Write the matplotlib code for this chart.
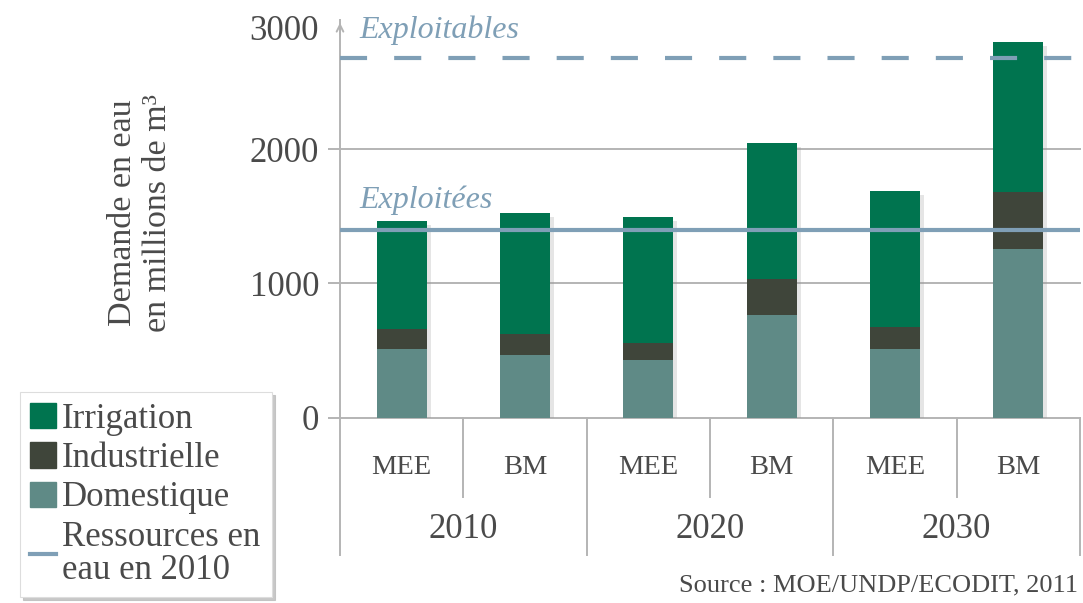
import numpy as np
import matplotlib
matplotlib.use('Agg')
import matplotlib.pyplot as plt
import matplotlib.patheffects as pe
from matplotlib.patches import Patch
from matplotlib.lines import Line2D

plt.rcParams['font.family'] = ['Liberation Serif', 'DejaVu Serif']

# data (millions de m3)
scenarios = ['MEE', 'BM', 'MEE', 'BM', 'MEE', 'BM']
years = ['2010', '2020', '2030']
domestique = [510, 465, 430, 765, 510, 1255]
industrielle = [148, 158, 128, 266, 162, 430]
irrigation = [811, 905, 941, 1015, 1020, 1120]
exploitees = 1400
exploitables = 2685

# colours
c_irr = '#00744f'
c_ind = '#3f453a'
c_dom = '#5f8a86'
c_res = '#7f9fb6'
c_grid = '#b4b4b4'
c_txt = '#4a4a4a'

fig = plt.figure(figsize=(10.83, 6.03), dpi=100)
ax = fig.add_axes([340 / 1083, 185.5 / 603, 740 / 1083, 397.5 / 603])

x = np.arange(len(scenarios)) + 0.5
width = 0.405
totals = np.array(domestique) + np.array(industrielle) + np.array(irrigation)

# soft shadow behind each full stack
sh = ax.bar(x, totals, width, color='white', zorder=2)
for r in sh:
    r.set_path_effects([pe.SimplePatchShadow(offset=(3, -3), shadow_rgbFace='#999999', alpha=0.25),
                        pe.Normal()])

ax.bar(x, domestique, width, color=c_dom, zorder=3)
bottom2 = np.array(domestique)
ax.bar(x, industrielle, width, bottom=bottom2, color=c_ind, zorder=3)
bottom3 = bottom2 + np.array(industrielle)
ax.bar(x, irrigation, width, bottom=bottom3, color=c_irr, zorder=3)

ax.set_xlim(0, 6)
ax.set_ylim(0, 2966)

# grid
for v in [0, 1000, 2000]:
    ax.axhline(v, color=c_grid, lw=1.4, zorder=1, clip_on=False)

# resources lines
ax.axhline(exploitees, color=c_res, lw=3, zorder=4)
ax.axhline(exploitables, color=c_res, lw=3, ls=(0, (6.5, 6.5)), zorder=4,
           xmin=0, xmax=0.995)
ax.text(0.16, 1620, 'Exploitées', style='italic', fontsize=23, color=c_res,
        ha='left', va='center', zorder=5)
ax.text(0.16, 2890, 'Exploitables', style='italic', fontsize=23, color=c_res,
        ha='left', va='center', zorder=5)

# axes styling
for s in ['top', 'right', 'bottom']:
    ax.spines[s].set_visible(False)
ax.spines['left'].set_color(c_grid)
ax.spines['left'].set_linewidth(1.4)
ax.set_yticks([0, 1000, 2000])
ax.set_yticklabels(['0', '1000', '2000'])
ax.tick_params(axis='y', length=9, width=1.4, color=c_grid, labelsize=25,
               labelcolor=c_txt, pad=6)
ax.set_xticks([])
ax.text(-0.17, 2880, '3000', fontsize=25, color=c_txt, ha='right', va='center')
ax.annotate('', xy=(0, 1.0), xycoords='axes fraction', xytext=(0, 0.96),
            arrowprops=dict(arrowstyle='->', color=c_grid, lw=1.4,
                            mutation_scale=12))

# category axis below
trans = ax.get_xaxis_transform()
for i in range(7):
    y_end = -0.346 if i % 2 == 0 else -0.2
    ax.plot([i, i], [0, y_end], color=c_grid, lw=1.4, transform=trans,
            clip_on=False)
for xi, lab in zip(x, scenarios):
    ax.text(xi, -0.127, lab, fontsize=20.5, color=c_txt, ha='center',
            va='center', transform=trans)
for i, yr in enumerate(years):
    ax.text(2 * i + 1, -0.283, yr, fontsize=25, color=c_txt, ha='center',
            va='center', transform=trans)

# y label
fig.text(140 / 1083, 1 - 213 / 603, 'Demande en eau\nen millions de m³',
         rotation=90, fontsize=24.5, color=c_txt, ha='center', va='center',
         linespacing=1.2)

# source
fig.text(1078 / 1083, 18 / 603, 'Source : MOE/UNDP/ECODIT, 2011',
         fontsize=19, color=c_txt, ha='right', va='center')

# legend
handles = [Patch(color=c_irr), Patch(color=c_ind), Patch(color=c_dom),
           Line2D([], [], color=c_res, lw=3)]
labels = ['Irrigation', 'Industrielle', 'Domestique', 'Ressources en\neau en 2010']
leg = fig.legend(handles, labels, loc='lower left',
                 bbox_to_anchor=(20 / 1083, 6 / 603, 252 / 1083, 210 / 603),
                 mode='expand', fontsize=25, labelcolor=c_txt, frameon=True,
                 fancybox=False, shadow={'color': '#bbbbbb', 'alpha': 0.8},
                 handlelength=0.75, handleheight=0.75, handletextpad=0.15,
                 labelspacing=0.18, borderpad=0.3, borderaxespad=0)
leg.get_frame().set_edgecolor('#dddddd')
leg.get_frame().set_linewidth(0.8)
for t in leg.get_texts():
    t.set_linespacing(1.0)

fig.savefig('out.png', dpi=100)
